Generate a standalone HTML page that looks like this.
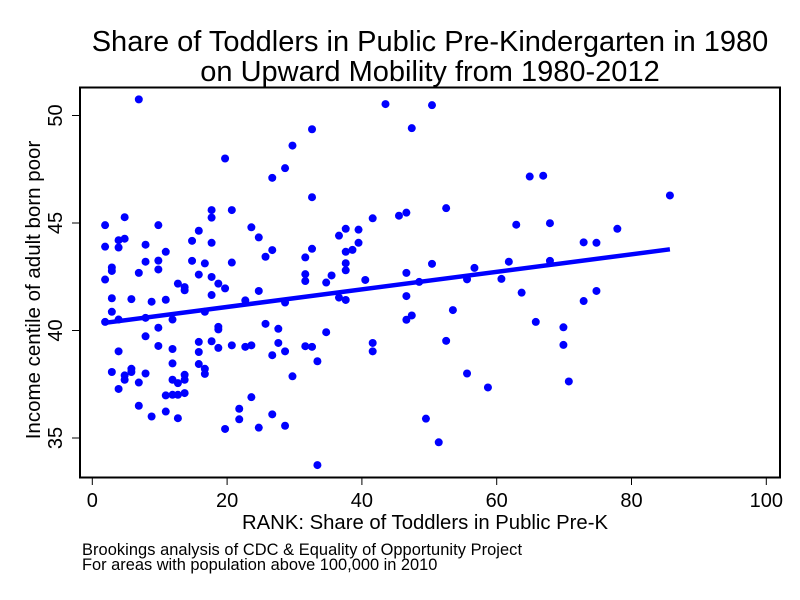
<!DOCTYPE html>
<html><head><meta charset="utf-8"><style>
body{margin:0;background:#fff}
svg{display:block;font-family:"Liberation Sans",sans-serif}
</style></head><body>
<svg id="chart" width="800" height="600">
<text x="430" y="51" font-size="29" text-anchor="middle">Share of Toddlers in Public Pre-Kindergarten in 1980</text>
<text x="430" y="81" font-size="29" text-anchor="middle">on Upward Mobility from 1980-2012</text>
<rect x="80" y="87.5" width="700" height="390" fill="none" stroke="#000" stroke-width="2"/>
<g id="xticks"></g>
<g id="yticks"></g>
<text x="425" y="529" font-size="20.3" text-anchor="middle">RANK: Share of Toddlers in Public Pre-K</text>
<text transform="translate(40,290) rotate(-90)" font-size="20.5" text-anchor="middle">Income centile of adult born poor</text>
<text x="82" y="555" font-size="16.4" textLength="440">Brookings analysis of CDC &amp; Equality of Opportunity Project</text>
<text x="82" y="570" font-size="16.4">For areas with population above 100,000 in 2010</text>
<g id="points"></g>
<g id="fit"></g>
</svg>
<script>
const xTicks=[0,20,40,60,80,100];
const yTicks=[35,40,45,50];
const xVals=[6.9,32.6,29.7,28.6,26.7,19.7,32.6,1.9,4.8,9.8,17.7,17.7,20.7,1.9,3.9,3.9,4.8,7.9,10.9,7.9,9.8,9.8,2.9,2.9,1.9,6.9,14.8,15.8,17.7,23.6,24.7,26.7,25.7,14.8,16.7,20.7,15.8,17.7,12.7,13.7,13.7,18.7,19.7,17.7,24.7,2.9,5.8,8.8,10.9,22.7,28.6,2.9,1.9,3.9,7.9,11.9,16.7,31.6,31.6,31.6,32.6,9.8,7.9,18.7,18.7,25.7,27.6,3.9,9.8,11.9,15.8,15.8,17.7,18.7,20.7,22.7,23.6,27.6,26.7,28.6,31.6,32.6,33.4,11.9,15.8,16.7,16.7,2.9,4.8,5.8,5.8,4.8,7.9,6.9,3.9,11.9,12.7,13.7,13.7,10.9,11.9,12.7,13.7,29.7,6.9,8.8,10.9,12.7,23.6,21.8,21.8,19.7,24.7,26.7,28.6,33.4,
43.5,50.4,47.4,64.9,52.5,62.9,45.5,46.6,41.6,36.6,37.6,39.5,39.5,38.6,37.6,37.6,37.6,35.5,34.7,40.5,46.6,50.4,56.7,48.5,55.6,61.8,60.7,36.6,37.6,46.6,63.7,65.8,53.5,46.6,47.4,34.7,41.6,41.6,52.5,55.6,58.7,49.5,51.4,
66.9,85.7,67.9,72.9,74.8,77.9,67.9,74.8,72.9,69.9,69.9,70.7];
const yVals=[50.75,49.36,48.6,47.55,47.1,48.0,46.2,44.9,45.27,44.9,45.6,45.25,45.6,43.9,44.2,43.86,44.27,43.99,43.66,43.2,43.25,42.84,42.93,42.77,42.37,42.68,44.17,44.64,44.08,44.8,44.33,43.74,43.43,43.24,43.12,43.16,42.6,42.49,42.18,42.02,41.87,42.18,41.96,41.65,41.84,41.5,41.46,41.34,41.43,41.4,41.3,40.87,40.4,40.51,40.59,40.51,40.87,43.4,42.62,42.3,43.8,40.13,39.73,40.17,40.05,40.31,40.08,39.03,39.28,39.14,39.47,39.0,39.5,39.19,39.31,39.24,39.31,39.42,38.85,39.03,39.27,39.24,38.57,38.47,38.44,38.22,37.98,38.07,37.91,38.22,38.07,37.71,38.0,37.58,37.28,37.71,37.55,37.71,37.94,36.98,37.01,37.01,37.09,37.87,36.5,36.0,36.23,35.92,36.9,36.36,35.87,35.42,35.48,36.1,35.57,33.74,
50.53,50.48,49.41,47.16,45.69,44.92,45.34,45.48,45.22,44.41,44.73,44.69,44.08,43.75,43.66,43.13,42.8,42.56,42.23,42.35,42.68,43.1,42.91,42.26,42.38,43.2,42.4,41.53,41.42,41.6,41.76,40.4,40.95,40.5,40.7,39.92,39.42,39.03,39.52,38.0,37.35,35.9,34.8,
47.2,46.28,44.99,44.1,44.08,44.73,43.24,41.84,41.37,40.15,39.33,37.63];
const fitIntercept=40.28;
const fitSlope=0.0408;
const fitRange=[1.9,85.7];
const NS='http://www.w3.org/2000/svg';
const xs=v=>92.3+6.74*v;
const ys=v=>115.5+(50-v)*21.5;
function mk(tag,attrs,parent){const e=document.createElementNS(NS,tag);for(const k in attrs)e.setAttribute(k,attrs[k]);parent.appendChild(e);return e;}
const xg=document.getElementById('xticks');
xTicks.forEach(t=>{
  const l=mk('line',{x1:xs(t),x2:xs(t),y1:477.5,y2:485,stroke:'#000','stroke-width':1},xg);
  
  
  const tx=mk('text',{x:xs(t),y:507,'font-size':20,'text-anchor':'middle'},xg);
  tx.textContent=t;
  
  
});
const yg=document.getElementById('yticks');
yTicks.forEach(t=>{
  const l=mk('line',{x1:72,x2:80,y1:ys(t),y2:ys(t),stroke:'#000','stroke-width':1},yg);
  
  
  const tx=mk('text',{'font-size':20,'text-anchor':'middle',transform:`translate(62,${ys(t)}) rotate(-90)`},yg);
  tx.textContent=t;
  
  
});
const pg=document.getElementById('points');
xVals.forEach((x,i)=>{
  const c=mk('circle',{cx:xs(x),cy:ys(yVals[i]),r:4,fill:'#0000ff'},pg);
  
  
});
const fg=document.getElementById('fit');
const fl=mk('line',{x1:xs(fitRange[0]),y1:ys(fitIntercept+fitSlope*fitRange[0]),x2:xs(fitRange[1]),y2:ys(fitIntercept+fitSlope*fitRange[1]),stroke:'#0000ff','stroke-width':4.5},fg);


</script>
</body></html>
